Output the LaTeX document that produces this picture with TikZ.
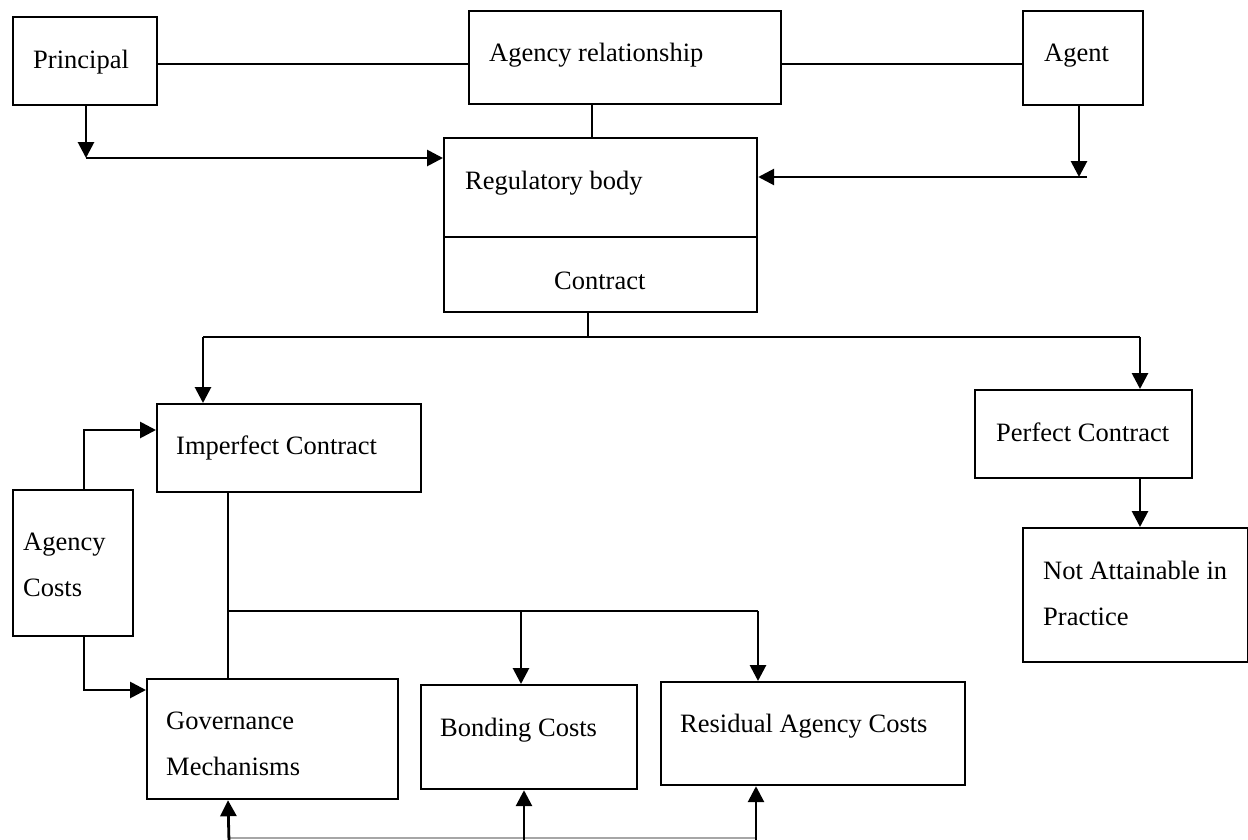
\documentclass[tikz,border=0pt]{standalone}
\usepackage{fontspec}
\setmainfont{Liberation Serif}
\usetikzlibrary{arrows.meta}
\begin{document}
\begin{tikzpicture}[x=1pt,y=-1pt,
  box/.style={draw, line width=2.2pt, inner sep=0pt, anchor=north west},
  txt/.style={anchor=base west, inner sep=0pt, font=\fontsize{26.5}{30}\selectfont},
  link/.style={line width=2pt},
  arr/.style={line width=2.8pt, -{Triangle[length=16pt,width=16pt]}},
  faint/.style={line width=1.2pt, draw=black!35}]
\useasboundingbox (0,0) rectangle (1248,839);
% boxes
\node[box, minimum width=144pt, minimum height=88pt]  (prin)  at (12,16)   {};
\node[box, minimum width=312pt, minimum height=93pt]  (agrel) at (468,10)  {};
\node[box, minimum width=120pt, minimum height=94pt]  (agent) at (1022,10) {};
\node[box, minimum width=313pt, minimum height=174pt] (reg)   at (443,137) {};
\node[box, minimum width=264pt, minimum height=88pt]  (imp)   at (156,403) {};
\node[box, minimum width=217pt, minimum height=88pt]  (perf)  at (974,389) {};
\node[box, minimum width=225pt, minimum height=134pt] (nat)   at (1022,527) {};
\node[box, minimum width=120pt, minimum height=146pt] (acost) at (12,489)  {};
\node[box, minimum width=251pt, minimum height=120pt] (gov)   at (146,678) {};
\node[box, minimum width=216pt, minimum height=104pt] (bond)  at (420,684) {};
\node[box, minimum width=304pt, minimum height=103pt] (resid) at (660,681) {};
% texts
\node[txt] (tprin)  at (33,68)   {Principal};
\node[txt] (tagrel) at (489,61)  {Agency relationship};
\node[txt] (tagent) at (1044,61) {Agent};
\node[txt] (treg)   at (465,189) {Regulatory body};
\node[txt] (tcon)   at (554,289) {Contract};
\node[txt] (timp)   at (176,454) {Imperfect Contract};
\node[txt] (tac1)   at (23,550)  {Agency};
\node[txt] (tac2)   at (23,596)  {Costs};
\node[txt] (tgov1)  at (166,729) {Governance};
\node[txt] (tgov2)  at (166,775) {Mechanisms};
\node[txt] (tbond)  at (440,736) {Bonding Costs};
\node[txt] (tres)   at (680,732) {Residual Agency Costs};
\node[txt] (tperf)  at (996,441) {Perfect Contract};
\node[txt] (tnat1)  at (1043,579) {Not Attainable in};
\node[txt] (tnat2)  at (1043,625) {Practice};
% divider inside regulatory body
\draw[line width=2.2pt] (reg.west |- 0,237) -- (reg.east |- 0,237);
% top links
\draw[link] (prin.east |- 0,64) -- (agrel.west |- 0,64);
\draw[link] (agrel.east |- 0,64) -- (agent.west |- 0,64);
\draw[link] (agrel.south -| 592,0) -- (reg.north -| 592,0);
% principal -> regulatory body
\coordinate (pj) at (86,158);
\draw[arr] (prin.south -| pj) -- (pj);
\draw[arr] (pj) -- (reg.west |- pj);
% agent -> regulatory body
\coordinate (aj) at (1079,177);
\coordinate (aje) at (1087,177);
\draw[arr] (agent.south -| aj) -- (aj);
\draw[arr] (aje) -- (reg.east |- aje);
% contract branches
\coordinate (cj) at (588,337);
\coordinate (cl) at (203,337);
\coordinate (cr) at (1140,337);
\draw[link] (reg.south -| cj) -- (cj);
\draw[link] (cl) -- (cr);
\draw[arr] (cl) -- (imp.north -| cl);
\draw[arr] (cr) -- (perf.north -| cr);
\draw[arr] (perf.south -| 1140,0) -- (nat.north -| 1140,0);
% agency costs
\coordinate (ka) at (84,430);
\coordinate (kb) at (84,690);
\draw[arr] (acost.north -| ka) -- (ka) -- (imp.west |- ka);
\draw[arr] (acost.south -| kb) -- (kb) -- (gov.west |- kb);
% imperfect contract branches
\coordinate (bj) at (228,611);
\coordinate (br) at (758,611);
\draw[link] (imp.south -| bj) -- (gov.north -| bj);
\draw[link] (bj) -- (br);
\draw[arr] (521,611) -- (bond.north -| 521,0);
\draw[arr] (br) -- (resid.north -| br);
% bottom feedback
\coordinate (b1) at (229,838);
\coordinate (b2) at (524,838);
\coordinate (b3) at (756,838);
\draw[faint] (b1) -- (b3);
\draw[arr] (229,842) -- (gov.south -| 228,0);
\draw[arr] (524,842) -- (bond.south -| b2);
\draw[arr] (756,842) -- (resid.south -| b3);
\end{tikzpicture}
\end{document}
